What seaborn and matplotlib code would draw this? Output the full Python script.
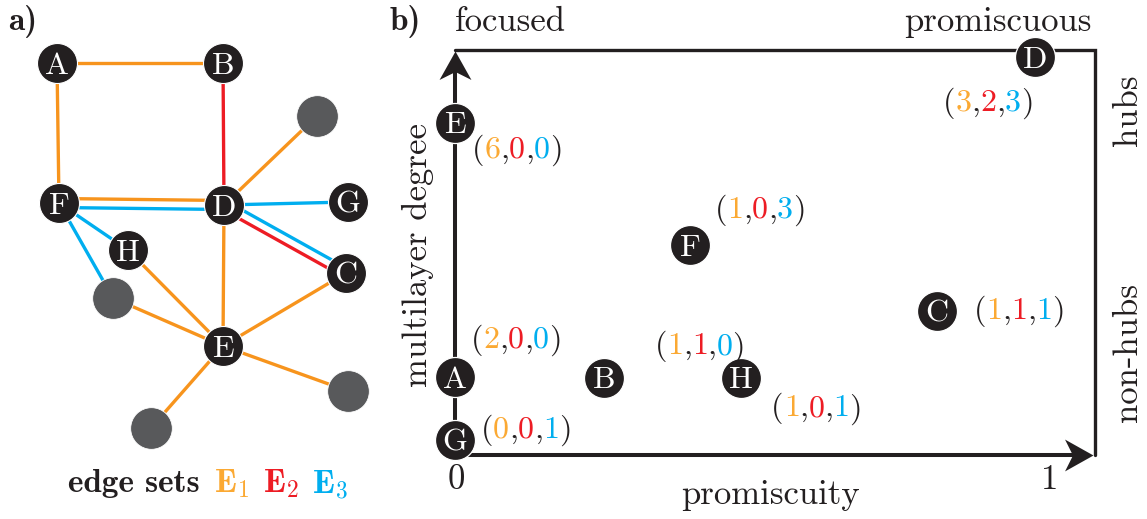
import numpy as np
import pandas as pd
import matplotlib
matplotlib.use("Agg")
import matplotlib.pyplot as plt
import seaborn as sns
from matplotlib.path import Path
from matplotlib.offsetbox import TextArea, HPacker, AnnotationBbox

# ---------------- data: panel a (multiplex network) ----------------
net_nodes = ['A', 'B', 'F', 'D', 'G', 'C', 'H', 'E']
net_x = [57, 223, 59, 224, 348, 346, 128, 223]
net_y = [63, 63, 203, 205, 202, 273, 250, 346]
anon_nodes = ['n1', 'n2', 'n3', 'n4']
anon_x = [317, 113, 348, 151]
anon_y = [116, 298, 391, 428]
edge_src = ['A', 'A', 'B', 'D', 'F', 'F', 'D', 'D', 'D', 'F', 'F', 'H', 'n2', 'D', 'C', 'E', 'E']
edge_dst = ['B', 'F', 'D', 'n1', 'D', 'D', 'G', 'C', 'C', 'H', 'n2', 'E', 'E', 'E', 'E', 'n3', 'n4']
edge_layer = [1, 1, 2, 1, 1, 3, 3, 2, 3, 3, 3, 1, 1, 1, 1, 1, 1]
edge_side = [0, 0, 0, 0, -1, 1, 0, 1, -1, 0, 0, 0, 0, 0, 0, 0, 0]

# ---------------- data: panel b (promiscuity vs multilayer degree) ----------------
roles = ['E', 'F', 'A', 'B', 'H', 'G', 'C', 'D']
promiscuity = [0.0, 0.395, 0.0, 0.25, 0.48, 0.0, 0.81, 0.975]
degree_pos = [6.0, 4.07, 1.99, 1.98, 1.98, 1.0, 3.03, 7.03]
deg_l1 = [6, 1, 2, 1, 1, 0, 1, 3]
deg_l2 = [0, 0, 0, 1, 0, 0, 1, 2]
deg_l3 = [0, 3, 0, 0, 1, 1, 1, 3]
label_dx = [62, 70, 61, 96, 76, 71, 82, -47]      # label offset from node, px
label_dy = [28, -35, -37, -31, 31, -10, 0, 46]

# ---------------- style ----------------
W, H = 1147, 519
DARK = '#231F20'
GRAY = '#58595B'
LINE_COL = {1: '#F7941D', 2: '#ED1C24', 3: '#00AEEF'}
TEXT_COL = {1: '#FBA933', 2: '#ED1C24', 3: '#00AEEF'}

sns.set_theme(style='white')
plt.rcParams['font.family'] = ['cmr10', 'DejaVu Serif']
plt.rcParams['mathtext.fontset'] = 'cm'
plt.rcParams['axes.unicode_minus'] = False

fig = plt.figure(figsize=(W / 100, H / 100), dpi=100)
fig.patch.set_facecolor('white')

def fx(px):
    return px / W

def fy(py):
    return 1 - py / H

NODE_FS = 23

# ================= panel a =================
ax_a = fig.add_axes([0, 0, 400 / W, 1])
ax_a.set_xlim(0, 400)
ax_a.set_ylim(H, 0)
ax_a.axis('off')

pos = {n: (x, y) for n, x, y in zip(net_nodes, net_x, net_y)}
pos.update({n: (x, y) for n, x, y in zip(anon_nodes, anon_x, anon_y)})

for s, d, layer, side in zip(edge_src, edge_dst, edge_layer, edge_side):
    x0, y0 = pos[s]
    x1, y1 = pos[d]
    L = np.hypot(x1 - x0, y1 - y0)
    ox, oy = -(y1 - y0) / L * 4.5 * side, (x1 - x0) / L * 4.5 * side
    ax_a.plot([x0 + ox, x1 + ox], [y0 + oy, y1 + oy], color=LINE_COL[layer],
              lw=2.4, solid_capstyle='butt', zorder=1)

sns.scatterplot(x=anon_x, y=anon_y, s=900, color=GRAY, edgecolor='white',
                linewidth=0.6, ax=ax_a, zorder=3, legend=False)
sns.scatterplot(x=net_x, y=net_y, s=830, color=DARK, edgecolor='white',
                linewidth=0.8, ax=ax_a, zorder=3, legend=False)
for n, x, y in zip(net_nodes, net_x, net_y):
    ax_a.text(x, y, n, color='white', fontsize=NODE_FS, ha='center', va='center_baseline', zorder=4)

fig.text(fx(8), fy(22), 'a)', fontsize=24, family='cmb10', color=DARK, ha='left', va='center')

legend_parts = [TextArea('edge sets', textprops=dict(color=DARK, fontsize=24, family='cmb10'))]
for k in (1, 2, 3):
    legend_parts.append(TextArea(r'$\mathbf{E}_{\mathbf{%d}}$' % k,
                                 textprops=dict(color=TEXT_COL[k], fontsize=24)))
leg = HPacker(children=legend_parts, align='baseline', pad=0, sep=10)
fig.add_artist(AnnotationBbox(leg, (fx(68), fy(484)), xycoords='figure fraction',
                              box_alignment=(0, 0.5), frameon=False))

# ================= panel b =================
ax_b = fig.add_axes([0, 0, 1, 1], facecolor='none')
PX0, PXS, PY1, PYS = 455, 595, 440, 63.5
ax_b.set_xlim((0 - PX0) / PXS, (W - PX0) / PXS)
ax_b.set_ylim(1 + (PY1 - H) / PYS, 1 + (PY1 - 0) / PYS)
ax_b.axis('off')

x_right = (1095 - PX0) / PXS
x_tip = (1093 - PX0) / PXS
y_bottom = 1 + (PY1 - 455) / PYS
y_top = 1 + (PY1 - 50) / PYS
y_tip = 1 + (PY1 - 51) / PYS

ax_b.plot([0, x_right, x_right], [y_top, y_top, y_bottom], color=DARK, lw=2.4,
          solid_joinstyle='miter', zorder=1)
ax_b.plot([0, (1075 - PX0) / PXS], [y_bottom, y_bottom], color=DARK, lw=2.9,
          solid_capstyle='butt', zorder=1)
ax_b.plot([0, 0], [y_bottom, 1 + (PY1 - 70) / PYS], color=DARK, lw=2.9,
          solid_capstyle='butt', zorder=1)

stealth_right = Path([(0, 0), (-1, 0.56), (-0.72, 0), (-1, -0.56), (0, 0)],
                     [Path.MOVETO, Path.LINETO, Path.LINETO, Path.LINETO, Path.CLOSEPOLY])
stealth_up = Path([(0, 0), (0.56, -1), (0, -0.72), (-0.56, -1), (0, 0)],
                  [Path.MOVETO, Path.LINETO, Path.LINETO, Path.LINETO, Path.CLOSEPOLY])
ax_b.plot([x_tip], [y_bottom], marker=stealth_right, ms=41, color=DARK, mew=0, zorder=2)
ax_b.plot([0], [y_tip], marker=stealth_up, ms=41, color=DARK, mew=0, zorder=2)

sns.scatterplot(x=promiscuity, y=degree_pos, s=830, color=DARK, edgecolor='white',
                linewidth=0.9, ax=ax_b, zorder=3, legend=False)
for n, x, y in zip(roles, promiscuity, degree_pos):
    ax_b.text(x, y, n, color='white', fontsize=NODE_FS, ha='center', va='center_baseline', zorder=4)

for x, y, a1, a2, a3, dx, dy in zip(promiscuity, degree_pos, deg_l1, deg_l2, deg_l3,
                                    label_dx, label_dy):
    fs = 23
    parts = [TextArea('(', textprops=dict(color=DARK, fontsize=fs)),
             TextArea(str(a1), textprops=dict(color=TEXT_COL[1], fontsize=fs)),
             TextArea(',', textprops=dict(color=DARK, fontsize=fs)),
             TextArea(str(a2), textprops=dict(color=TEXT_COL[2], fontsize=fs)),
             TextArea(',', textprops=dict(color=DARK, fontsize=fs)),
             TextArea(str(a3), textprops=dict(color=TEXT_COL[3], fontsize=fs)),
             TextArea(')', textprops=dict(color=DARK, fontsize=fs))]
    box = HPacker(children=parts, align='baseline', pad=0, sep=0)
    ax_b.add_artist(AnnotationBbox(box, (x, y), xybox=(dx * 0.72, -dy * 0.72),
                                   boxcoords='offset points', box_alignment=(0.5, 0.5),
                                   frameon=False, zorder=5))

txt = dict(color=DARK, fontsize=25)
fig.text(fx(390), fy(22), 'b)', fontsize=24, family='cmb10', color=DARK, ha='left', va='center')
fig.text(fx(510), fy(22), 'focused', ha='center', va='center', **txt)
fig.text(fx(998), fy(22), 'promiscuous', ha='center', va='center', **txt)
fig.text(fx(418), fy(255), 'multilayer degree', rotation=90, ha='center', va='center', **txt)
fig.text(fx(770), fy(495), 'promiscuity', ha='center', va='center', **txt)
fig.text(fx(456), fy(480), '0', ha='center', va='center', **txt)
fig.text(fx(1050), fy(480), '1', ha='center', va='center', **txt)
fig.text(fx(1128), fy(110), 'hubs', rotation=90, ha='center', va='center', **txt)
fig.text(fx(1128), fy(353), 'non-hubs', rotation=90, ha='center', va='center', **txt)

fig.savefig('out.png', dpi=100, facecolor='white')
